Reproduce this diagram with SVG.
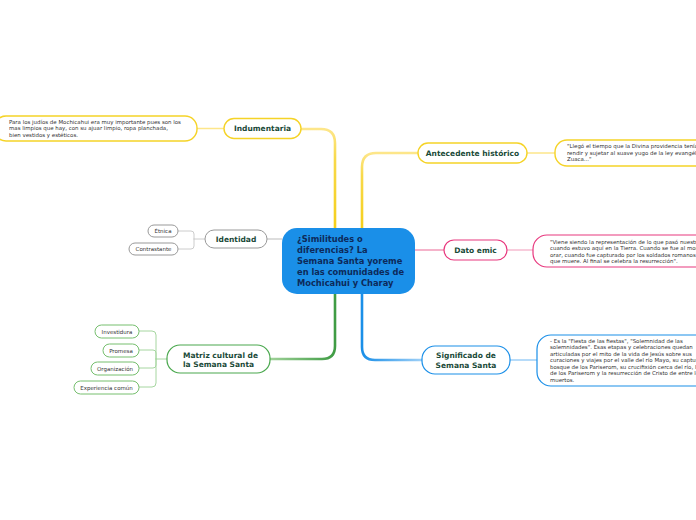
<svg xmlns="http://www.w3.org/2000/svg" width="696" height="520" viewBox="0 0 696 520">
<defs>
<style>
.t{font-family:"DejaVu Sans","Verdana",sans-serif;}
.nb{font-weight:bold;font-size:7.5px;fill:#1a4a38;}
.d{font-size:5.45px;fill:#333;}
.c{font-size:5.5px;fill:#333;}
.box{fill:#fff;}
.y{stroke:#f5d327;stroke-width:1.4;}
.p{stroke:#e8387e;stroke-width:1.2;}
.b{stroke:#1a8fe8;stroke-width:1.2;}
.g{stroke:#4aa84e;stroke-width:1.2;}
.gl{stroke:#77bf6f;stroke-width:1;}
.gr{stroke:#999;stroke-width:1;}
.ln{fill:none;stroke-linecap:round;}
</style>
<linearGradient id="gy1" gradientUnits="userSpaceOnUse" x1="0" y1="228" x2="0" y2="129"><stop offset="0" stop-color="#f5cf1a"/><stop offset="0.7" stop-color="#f8d94a"/><stop offset="1" stop-color="#fde68a"/></linearGradient>
<linearGradient id="gy2" gradientUnits="userSpaceOnUse" x1="0" y1="228" x2="0" y2="153"><stop offset="0" stop-color="#f5cf1a"/><stop offset="0.7" stop-color="#f8d94a"/><stop offset="1" stop-color="#fde68a"/></linearGradient>
<linearGradient id="gg" gradientUnits="userSpaceOnUse" x1="335" y1="0" x2="270" y2="0"><stop offset="0" stop-color="#3f9c44"/><stop offset="1" stop-color="#9fd198"/></linearGradient>
<linearGradient id="gb" gradientUnits="userSpaceOnUse" x1="362" y1="0" x2="422" y2="0"><stop offset="0" stop-color="#1a8fe8"/><stop offset="1" stop-color="#9fd0f7"/></linearGradient>
</defs>
<rect width="696" height="520" fill="#fff"/>
<g id="connectors" class="ln">
<path d="M335,228 V143 Q335,129 321,129 H301" stroke="url(#gy1)" stroke-width="2.6" fill="none"/>
<path d="M362,228 V167 Q362,153 376,153 H418" stroke="url(#gy2)" stroke-width="2.6" fill="none"/>
<path d="M335,294 V346 Q335,359 322,359 H270" stroke="url(#gg)" stroke-width="2.6" fill="none"/>
<path d="M362,294 V347 Q362,360 375,360 H422" stroke="url(#gb)" stroke-width="2.6" fill="none"/>
<path d="M415,250 H444" stroke="#f29ab9" stroke-width="1.4" fill="none"/>
<path d="M282,239 H267" stroke="#bbb" stroke-width="1.2" fill="none"/>
<path d="M224,128.5 H197" stroke="#fde68a" stroke-width="1.4" fill="none"/>
<path d="M527,153 H555" stroke="#fde68a" stroke-width="1.4" fill="none"/>
<path d="M507,250 H533" stroke="#f29ab9" stroke-width="1.2" fill="none"/>
<path d="M510,360 H537" stroke="#9fd0f7" stroke-width="1.4" fill="none"/>
<path d="M205,239 H194 M194,239 V234 Q194,231 191,231 H178 M194,239 V246 Q194,249 191,249 H178" stroke="#ccc" stroke-width="1" fill="none"/>
<path d="M167,359 H156 M156,359 V335 Q156,331 152,331 H139 M156,359 V353 Q156,350 153,350 H139 M156,359 V365 Q156,368 153,368 H139 M156,359 V383 Q156,387 152,387 H139" stroke="#a6d6a0" stroke-width="1" fill="none"/>
</g>
<g id="central">
<rect x="282" y="228" width="133" height="66" rx="15" fill="#1a8fe8"/>
<text class="t" font-weight="bold" font-size="8.3" fill="#0d2a5a"><tspan x="297" y="242">¿Similitudes o</tspan><tspan x="297" y="253">diferencias? La</tspan><tspan x="297" y="264">Semana Santa yoreme</tspan><tspan x="297" y="275">en las comunidades de</tspan><tspan x="297" y="286">Mochicahui y Charay</tspan></text>
</g>
<g id="indumentaria">
<rect x="224" y="118.5" width="77" height="20" rx="10" class="box y"/>
<text class="t nb" x="262.5" y="131" text-anchor="middle">Indumentaria</text>
</g>
<g id="indumentaria-desc">
<rect x="-6" y="116" width="203" height="25" rx="12" class="box y"/>
<text class="t d"><tspan x="9" y="123.5">Para los judíos de Mochicahui era muy importante pues son los</tspan><tspan x="9" y="130">mas limpios que hay, con su ajuar limpio, ropa planchada,</tspan><tspan x="9" y="136.5">bien vestidos y estéticos.</tspan></text>
</g>
<g id="antecedente">
<rect x="418" y="143" width="109" height="20" rx="10" class="box y"/>
<text class="t nb" x="472.5" y="156" text-anchor="middle">Antecedente histórico</text>
</g>
<g id="antecedente-desc">
<rect x="555" y="140" width="160" height="26" rx="12" class="box y"/>
<text class="t d"><tspan x="567" y="148">"Llegó el tiempo que la Divina providencia tenía</tspan><tspan x="567" y="154.5">rendir y sujetar al suave yugo de la ley evangélica</tspan><tspan x="567" y="161">Zuaca..."</tspan></text>
</g>
<g id="dato-emic">
<rect x="444" y="240" width="63" height="20" rx="10" class="box p"/>
<text class="t nb" x="475.5" y="253" text-anchor="middle">Dato emic</text>
</g>
<g id="dato-emic-desc">
<rect x="533" y="235" width="180" height="32" rx="14" class="box p"/>
<text class="t d"><tspan x="550" y="243.5">"Viene siendo la representación de lo que pasó nuestro</tspan><tspan x="550" y="250">cuando estuvo aquí en la Tierra. Cuando se fue al monte a</tspan><tspan x="550" y="256.5">orar, cuando fue capturado por los soldados romanos hasta</tspan><tspan x="550" y="263">que muere. Al final se celebra la resurrección".</tspan></text>
</g>
<g id="significado">
<rect x="422" y="346" width="88" height="28" rx="13" class="box b"/>
<text class="t nb" text-anchor="middle"><tspan x="466" y="358">Significado de</tspan><tspan x="466" y="368">Semana Santa</tspan></text>
</g>
<g id="significado-desc">
<rect x="537" y="335" width="180" height="51" rx="14" class="box b"/>
<text class="t d"><tspan x="550" y="342.5">- Es la "Fiesta de las fiestas", "Solemnidad de las</tspan><tspan x="550" y="348.5">solemnidades". Esas etapas y celebraciones quedan</tspan><tspan x="550" y="355.5">articuladas por el mito de la vida de Jesús sobre sus</tspan><tspan x="550" y="362">curaciones y viajes por el valle del río Mayo, su captura en el</tspan><tspan x="550" y="368.5">bosque de los Pariserom, su crucifixión cerca del río, la muerte</tspan><tspan x="550" y="375">de los Pariserom y la resurrección de Cristo de entre los</tspan><tspan x="550" y="381.5">muertos.</tspan></text>
</g>
<g id="matriz">
<rect x="167" y="345" width="103" height="28" rx="13" class="box g"/>
<text class="t nb"><tspan x="183" y="357.5">Matriz cultural de</tspan><tspan x="183" y="367">la Semana Santa</tspan></text>
</g>
<g id="investidura">
<rect x="95" y="325" width="44" height="13" rx="6.5" class="box gl"/>
<text class="t c" x="117" y="333.5" text-anchor="middle">Investidura</text>
</g>
<g id="promesa">
<rect x="103" y="344" width="36" height="13" rx="6.5" class="box gl"/>
<text class="t c" x="121" y="352.5" text-anchor="middle">Promesa</text>
</g>
<g id="organizacion">
<rect x="91" y="362" width="48" height="13" rx="6.5" class="box gl"/>
<text class="t c" x="115" y="370.5" text-anchor="middle">Organización</text>
</g>
<g id="experiencia">
<rect x="74" y="381" width="65" height="13" rx="6.5" class="box gl"/>
<text class="t c" x="106.5" y="389.5" text-anchor="middle">Experiencia común</text>
</g>
<g id="identidad">
<rect x="205" y="230" width="62" height="18" rx="9" class="box gr"/>
<text class="t nb" x="236" y="242" text-anchor="middle">Identidad</text>
</g>
<g id="etnica">
<rect x="148" y="225" width="30" height="12" rx="6" class="box gr"/>
<text class="t c" x="163" y="233" text-anchor="middle">Étnica</text>
</g>
<g id="contrastante">
<rect x="129" y="243" width="49" height="12" rx="6" class="box gr"/>
<text class="t c" x="153.5" y="251" text-anchor="middle">Contrastante</text>
</g>
</svg>
